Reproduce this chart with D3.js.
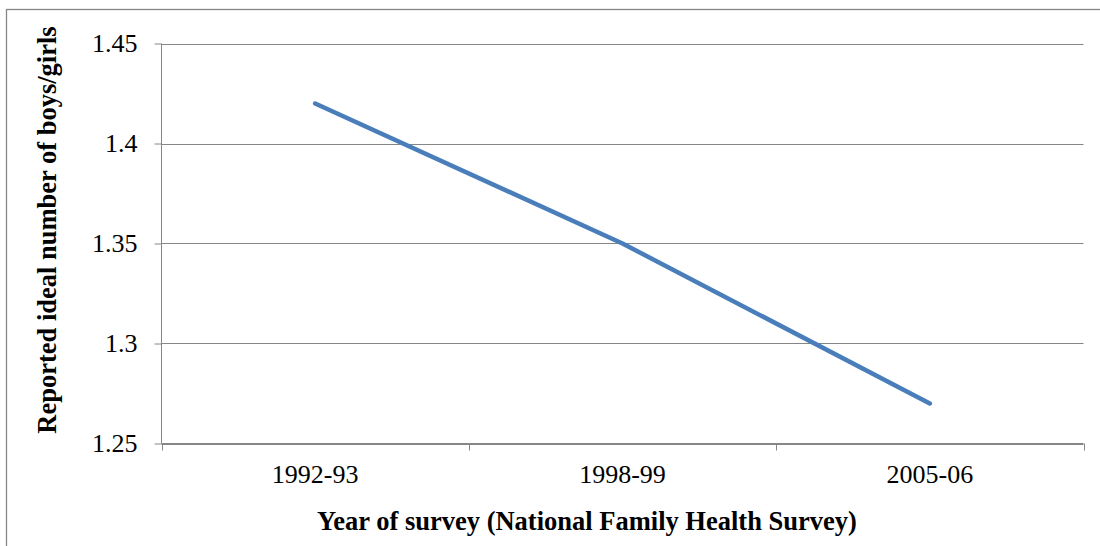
<!DOCTYPE html>
<html>
<head>
<meta charset="utf-8">
<script src="https://cdn.jsdelivr.net/npm/d3@7"></script>
<style>
  html, body { margin: 0; padding: 0; background: #fff; }
  svg { display: block; }
  text { font-family: "Liberation Serif", "Times New Roman", serif; fill: #000; }
</style>
</head>
<body>
<svg id="chart" width="1100" height="546"></svg>
<script>
// Survey rounds and reported ideal number of boys per girl
const surveys = ["1992-93", "1998-99", "2005-06"];
const ratio = [1.42, 1.35, 1.27];
const yTicks = [1.25, 1.3, 1.35, 1.4, 1.45];
const yTickLabels = ["1.25", "1.3", "1.35", "1.4", "1.45"];
const xTitle = "Year of survey (National Family Health Survey)";
const yTitle = "Reported ideal number of boys/girls";

const svg = d3.select("#chart");
const plot = { left: 161.5, right: 1083.5, top: 43.5, bottom: 443.5 };
const gridColor = "#868686";

// chart frame
svg.append("rect")
  .attr("x", 6.5).attr("y", 9.5)
  .attr("width", 1200).attr("height", 1000)
  .attr("fill", "none").attr("stroke", gridColor).attr("stroke-width", 1.3);

const x = d3.scaleBand().domain(surveys).range([plot.left, plot.right]);
const y = d3.scaleLinear().domain([1.25, 1.45]).range([plot.bottom, plot.top]);

// horizontal gridlines
svg.append("g")
  .selectAll("line").data(yTicks).join("line")
  .attr("x1", plot.left).attr("x2", plot.right)
  .attr("y1", d => Math.round(y(d)) + 0.5).attr("y2", d => Math.round(y(d)) + 0.5)
  .attr("stroke", gridColor).attr("stroke-width", 1);

// y axis
const yAxis = d3.axisLeft(y)
  .tickValues(yTicks)
  .tickFormat((d, i) => yTickLabels[i])
  .tickSize(7).tickPadding(17);
const gy = svg.append("g").attr("transform", `translate(${plot.left},0)`).call(yAxis);
gy.select(".domain").attr("stroke", gridColor).attr("d", `M0,${plot.top}V${plot.bottom}`);
gy.selectAll(".tick line").attr("stroke", gridColor);
gy.selectAll(".tick text")
  .attr("font-size", 26)
  .attr("font-family", "Liberation Serif, serif")
  .attr("fill", "#000");

// x axis: ticks at category boundaries, labels at centres
const gx = svg.append("g").attr("transform", `translate(0,${plot.bottom})`);
gx.append("line")
  .attr("x1", plot.left).attr("x2", plot.right)
  .attr("stroke", gridColor);
const bounds = surveys.map(s => x(s)).concat([x(surveys[surveys.length - 1]) + x.bandwidth()]);
gx.selectAll("line.tk").data(bounds).join("line").attr("class", "tk")
  .attr("x1", d => Math.round(d) + 0.5).attr("x2", d => Math.round(d) + 0.5)
  .attr("y1", 0).attr("y2", 7)
  .attr("stroke", gridColor);
gx.selectAll("text").data(surveys).join("text")
  .attr("x", d => x(d) + x.bandwidth() / 2)
  .attr("y", 39)
  .attr("text-anchor", "middle")
  .attr("font-size", 26)
  .text(d => d);

// data line
const line = d3.line()
  .x((d, i) => x(surveys[i]) + x.bandwidth() / 2)
  .y(d => y(d));
svg.append("path")
  .datum(ratio)
  .attr("d", line)
  .attr("fill", "none")
  .attr("stroke", "#4A7EBB")
  .attr("stroke-width", 4.5)
  .attr("stroke-linecap", "round")
  .attr("stroke-linejoin", "round");

// axis titles
svg.append("text")
  .attr("x", 587)
  .attr("y", 530)
  .attr("text-anchor", "middle")
  .attr("font-size", 26.5)
  .attr("font-weight", "bold")
  .text(xTitle);

svg.append("text")
  .attr("transform", `translate(56,230) rotate(-90)`)
  .attr("text-anchor", "middle")
  .attr("font-size", 26.5)
  .attr("font-weight", "bold")
  .text(yTitle);
</script>
</body>
</html>
